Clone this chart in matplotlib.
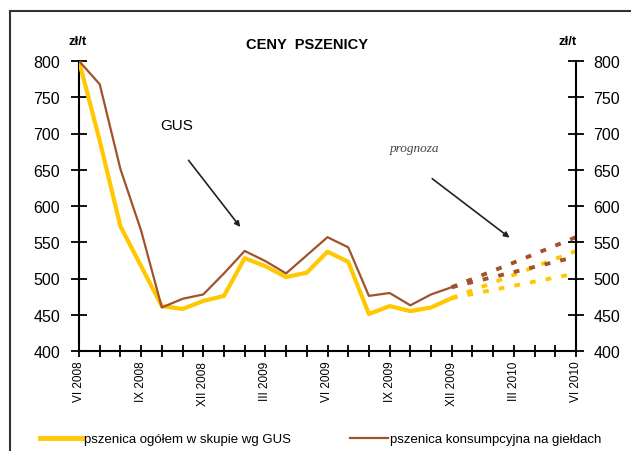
import numpy as np
import matplotlib
matplotlib.use('Agg')
import matplotlib.pyplot as plt
from matplotlib.lines import Line2D

plt.rcParams['font.family'] = ['Liberation Sans', 'DejaVu Sans']

# ---------------- data ----------------
months = list(range(19))  # VI 2008 .. XII 2009
gus = [800, 690, 572, 517, 462, 458, 469, 476, 528, 517, 502, 508,
       537, 523, 451, 462, 455, 460, 473]
gielda = [800, 768, 651, 566, 460, 472, 478, 507, 538, 524, 507, 532,
          557, 543, 476, 480, 463, 478, 488]

fc_months = [18, 21, 24]
gus_fc_hi = [473, 505, 538]
gus_fc_lo = [473, 490, 507]
gielda_fc_hi = [488, 522, 557]
gielda_fc_lo = [488, 509, 530]

tick_pos = [0, 3, 6, 9, 12, 15, 18, 21, 24]
tick_lab = ['VI 2008', 'IX 2008', 'XII 2008', 'III 2009', 'VI 2009',
            'IX 2009', 'XII 2009', 'III 2010', 'VI 2010']
yticks = [400, 450, 500, 550, 600, 650, 700, 750, 800]

yellow = '#ffc800'
brown = '#a0522d'

fig = plt.figure(figsize=(6.31, 4.52), dpi=100)
ax = fig.add_axes([79/631, 1-352/452, 497/631, 290/452])

ax.plot(months, gus, color=yellow, lw=3.0, zorder=3)
ax.plot(months, gielda, color=brown, lw=1.6, zorder=4)
ax.plot(fc_months, gus_fc_hi, color=yellow, lw=2.8, dashes=(1.5, 2.6))
ax.plot(fc_months, gus_fc_lo, color=yellow, lw=2.8, dashes=(1.5, 2.6))
ax.plot(fc_months, gielda_fc_hi, color=brown, lw=2.8, dashes=(1.5, 2.6))
ax.plot(fc_months, gielda_fc_lo, color=brown, lw=2.8, dashes=(1.5, 2.6))

ax.set_xlim(0, 24)
ax.set_ylim(400, 800)
ax.set_xticks(range(25), minor=True)
ax.set_xticks(tick_pos)
ax.set_xticklabels(tick_lab, rotation=90, fontsize=8.5)
ax.set_yticks(yticks)
ax.tick_params(axis='y', direction='inout', length=11, width=1.3, labelsize=11.5, pad=8)
ax.tick_params(axis='x', which='both', direction='inout', length=8, width=1.3, pad=3)
for s in ['top', 'right']:
    ax.spines[s].set_visible(False)
for s in ['left', 'bottom']:
    ax.spines[s].set_linewidth(1.5)

ax2 = ax.twinx()
ax2.set_ylim(400, 800)
ax2.set_yticks(yticks)
ax2.tick_params(axis='y', direction='inout', length=11, width=1.3, labelsize=11.5, pad=7)
for s in ['top', 'left', 'bottom']:
    ax2.spines[s].set_visible(False)
ax2.spines['right'].set_linewidth(1.5)

# annotations
ax.text(4.73, 712, 'GUS', fontsize=11, ha='center', va='center')
ax.annotate('', xy=(7.87, 568), xytext=(5.21, 666),
            arrowprops=dict(arrowstyle='-|>', color='#222222', lw=1.2,
                            mutation_scale=8))
ax.text(16.2, 680, 'prognoza', fontsize=9.5, style='italic', color='#444444',
        ha='center', va='center', family=['Liberation Serif'])
ax.annotate('', xy=(20.9, 554), xytext=(16.95, 640),
            arrowprops=dict(arrowstyle='-|>', color='#222222', lw=1.2,
                            mutation_scale=8))

fig.text(307/631, 1-45/452, 'CENY  PSZENICY', fontsize=10.5, weight='bold',
         ha='center', va='center')
fig.text(78/631, 1-42/452, 'zł/t', fontsize=9.5, weight='bold', ha='center', va='center')
fig.text(568/631, 1-42/452, 'zł/t', fontsize=9.5, weight='bold', ha='center', va='center')

# frame
fig.add_artist(Line2D([10/631, 10/631], [0, 1-12/452], color='#333333', lw=1.5))
fig.add_artist(Line2D([10/631, 1], [1-12/452, 1-12/452], color='#333333', lw=1.5))

# legend
h1 = Line2D([], [], color=yellow, lw=3.5)
h2 = Line2D([], [], color=brown, lw=1.6)
fig.legend([h1], ['pszenica ogółem w skupie wg GUS'], loc='center left',
           bbox_to_anchor=(40/631, 1-440/452), frameon=False, fontsize=9.5,
           handlelength=3.2, handletextpad=0.1, borderpad=0, borderaxespad=0)
fig.legend([h2], ['pszenica konsumpcyjna na giełdach'], loc='center left',
           bbox_to_anchor=(350/631, 1-440/452), frameon=False, fontsize=9.5,
           handlelength=2.9, handletextpad=0.1, borderpad=0, borderaxespad=0)

fig.savefig('out.png', dpi=100)
